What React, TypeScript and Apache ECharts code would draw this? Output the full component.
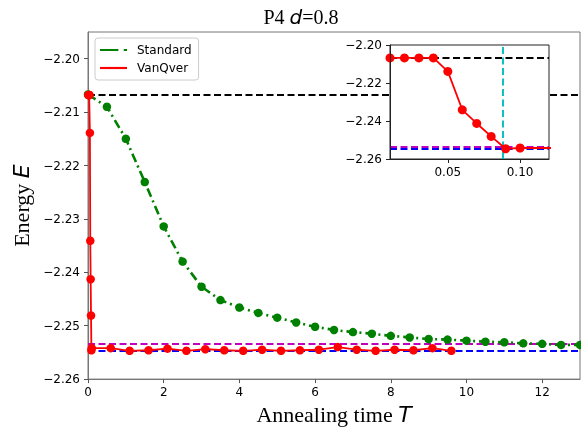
import React, { useEffect, useRef } from 'react';
import * as echarts from 'echarts';

// Standard annealing (green, dash-dot)
const stdT = [0, 0.5, 1, 1.5, 2, 2.5, 3, 3.5, 4, 4.5, 5, 5.5, 6, 6.5, 7, 7.5, 8, 8.5, 9, 9.5, 10, 10.5, 11, 11.5, 12, 12.5, 13];
const stdE = [-2.2067, -2.209, -2.215, -2.2231, -2.2314, -2.238, -2.2427, -2.2452, -2.2466, -2.2476, -2.2485, -2.2494, -2.2502, -2.2508, -2.2512, -2.2515, -2.2519, -2.2522, -2.2525, -2.2526, -2.2528, -2.253, -2.2531, -2.2533, -2.2534, -2.2536, -2.2536];

// VanQver (red)
const vanT = [0.01, 0.02, 0.03, 0.04, 0.05, 0.06, 0.07, 0.08, 0.09, 0.1, 0.6, 1.1, 1.6, 2.1, 2.6, 3.1, 3.6, 4.1, 4.6, 5.1, 5.6, 6.1, 6.6, 7.1, 7.6, 8.1, 8.6, 9.1, 9.6];
const vanE = [-2.2068, -2.2068, -2.2068, -2.2068, -2.2139, -2.2341, -2.2413, -2.2481, -2.2546, -2.2542, -2.2542, -2.2547, -2.2546, -2.2543, -2.2547, -2.2544, -2.2546, -2.2547, -2.2545, -2.2547, -2.2546, -2.2545, -2.254, -2.2545, -2.2547, -2.2545, -2.2546, -2.2542, -2.2547];

// Reference levels
const initialE = -2.2067;
const boundE = -2.2534;
const exactE = -2.2547;
const cyanT = 0.088;

// Ticks
const xTicks = [0, 2, 4, 6, 8, 10, 12];
const yTicks = [-2.26, -2.25, -2.24, -2.23, -2.22, -2.21, -2.2];
const insetXTicks = [0.05, 0.1];
const insetYTicks = [-2.26, -2.24, -2.22, -2.2];

const fmt2 = (v: number) => v.toFixed(2).replace('-', '\u2212');
const SANS = 'DejaVu Sans';
const SERIF = 'Liberation Serif';

const dashed = (color: string) => ({ color, type: [7, 3.5] as number[], width: 1.9 });

export default function App() {
  const ref = useRef<HTMLDivElement>(null);
  useEffect(() => {
    const chart = echarts.init(ref.current!, null, { renderer: 'svg' });
    const stdData = stdT.map((t, i) => [t, stdE[i]]);
    const vanData = vanT.map((t, i) => [t, vanE[i]]);
    const tickLabel = { fontFamily: SANS, fontSize: 12, color: '#000' };
    const option: any = {
      animation: false,
      graphic: [
        {
          type: 'text',
          x: 301,
          y: 7,
          z: 20,
          style: {
            text: '{a|P4 }{b|d}{a|=0.8}',
            align: 'center',
            textAlign: 'center',
            verticalAlign: 'top',
            textVerticalAlign: 'top',
            rich: {
              a: { fontFamily: SERIF, fontSize: 20, color: '#000' },
              b: { fontFamily: SANS, fontStyle: 'italic', fontSize: 20, color: '#000' },
            },
          },
        },
      ],
      legend: {
        left: 95,
        top: 38,
        orient: 'vertical',
        padding: [6, 7, 6, 5],
        itemWidth: 27,
        itemHeight: 3,
        itemGap: 6,
        borderColor: '#ccc',
        borderWidth: 1,
        borderRadius: 3,
        backgroundColor: 'rgba(255,255,255,0.85)',
        textStyle: { fontFamily: SANS, fontSize: 12, color: '#000', padding: [0, 0, 0, 5] },
        data: [
          { name: 'Standard', icon: 'path://M0 0H17V2H0ZM22 0H25V2H22Z' },
          { name: 'VanQver', icon: 'path://M0 0H25V2H0Z' },
        ],
      },
      grid: [
        {
          left: 88,
          top: 32,
          right: 1,
          bottom: 47,
          show: true,
          backgroundColor: 'transparent',
          borderColor: '#777',
          borderWidth: 1,
        },
        {
          left: 390,
          top: 45,
          width: 159,
          height: 114,
          show: true,
          backgroundColor: '#fff',
          borderColor: '#222',
          borderWidth: 1,
          z: 10,
        },
      ],
      xAxis: [
        {
          type: 'value',
          gridIndex: 0,
          min: 0,
          max: 13,
          interval: 2,
          name: '{a|Annealing time }{b|T}',
          nameLocation: 'middle',
          nameGap: 15,
          nameTextStyle: {
            rich: {
              a: { fontFamily: SERIF, fontSize: 22, color: '#000' },
              b: { fontFamily: SANS, fontStyle: 'italic', fontSize: 22, color: '#000' },
            },
          },
          axisLine: { show: true, lineStyle: { color: '#777', width: 1 } },
          axisTick: { show: true, length: 4, customValues: xTicks, lineStyle: { color: '#555' } },
          axisLabel: { ...tickLabel, margin: 7, customValues: xTicks, formatter: (v: number) => String(v) },
          splitLine: { show: false },
        },
        {
          type: 'value',
          gridIndex: 1,
          min: 0.01,
          max: 0.12,
          z: 12,
          axisLine: { show: true, lineStyle: { color: '#222', width: 1 } },
          axisTick: { show: true, length: 4, customValues: insetXTicks, lineStyle: { color: '#222' } },
          axisLabel: { ...tickLabel, margin: 7, customValues: insetXTicks, formatter: (v: number) => v.toFixed(2) },
          splitLine: { show: false },
        },
      ],
      yAxis: [
        {
          type: 'value',
          gridIndex: 0,
          min: -2.26,
          max: -2.195,
          interval: 0.01,
          name: '{a|Energy }{b|E}',
          nameLocation: 'middle',
          nameGap: 54,
          nameTextStyle: {
            rich: {
              a: { fontFamily: SERIF, fontSize: 22, color: '#000' },
              b: { fontFamily: SANS, fontStyle: 'italic', fontSize: 22, color: '#000' },
            },
          },
          axisLine: { show: true, lineStyle: { color: '#777', width: 1 } },
          axisTick: { show: true, length: 4, customValues: yTicks, lineStyle: { color: '#555' } },
          axisLabel: { ...tickLabel, margin: 8, customValues: yTicks, formatter: fmt2 },
          splitLine: { show: false },
        },
        {
          type: 'value',
          gridIndex: 1,
          min: -2.26,
          max: -2.2,
          interval: 0.02,
          z: 12,
          axisLine: { show: true, lineStyle: { color: '#222', width: 1 } },
          axisTick: { show: true, length: 4, customValues: insetYTicks, lineStyle: { color: '#222' } },
          axisLabel: { ...tickLabel, margin: 8, customValues: insetYTicks, formatter: fmt2 },
          splitLine: { show: false },
        },
      ],
      series: [
        {
          name: 'Standard',
          type: 'line',
          xAxisIndex: 0,
          yAxisIndex: 0,
          data: stdData,
          symbol: 'circle',
          symbolSize: 8.5,
          z: 3,
          itemStyle: { color: '#008000' },
          lineStyle: { color: '#008000', width: 2.6, type: [9, 4, 2, 4] },
          emphasis: { disabled: true },
          markLine: {
            silent: true,
            symbol: 'none',
            precision: 6,
            z: 2,
            label: { show: false },
            emphasis: { disabled: true },
            data: [
              { yAxis: initialE, lineStyle: dashed('#000') },
              { yAxis: boundE, lineStyle: dashed('#bf00bf') },
              { yAxis: exactE, lineStyle: dashed('#0000ff') },
            ],
          },
        },
        {
          name: 'VanQver',
          type: 'line',
          xAxisIndex: 0,
          yAxisIndex: 0,
          data: vanData,
          symbol: 'circle',
          symbolSize: 8.5,
          z: 4,
          itemStyle: { color: '#ff0000' },
          lineStyle: { color: '#ff0000', width: 1.8 },
          emphasis: { disabled: true },
        },
        {
          name: 'VanQver inset',
          type: 'line',
          xAxisIndex: 1,
          yAxisIndex: 1,
          data: vanData,
          symbol: 'circle',
          symbolSize: 9,
          clip: true,
          z: 11,
          itemStyle: { color: '#ff0000' },
          lineStyle: { color: '#ff0000', width: 1.8 },
          emphasis: { disabled: true },
          markLine: {
            silent: true,
            symbol: 'none',
            precision: 6,
            z: 11,
            label: { show: false },
            emphasis: { disabled: true },
            data: [
              { yAxis: initialE, lineStyle: dashed('#000') },
              { yAxis: boundE, lineStyle: dashed('#bf00bf') },
              { yAxis: exactE, lineStyle: dashed('#0000ff') },
              { xAxis: cyanT, lineStyle: dashed('#00bfbf') },
            ],
          },
        },
      ],
    };
    chart.setOption(option);
    return () => chart.dispose();
  }, []);
  return <div ref={ref} style={{ position: 'fixed', left: 0, top: 0, width: 581, height: 430 }} />;
}
